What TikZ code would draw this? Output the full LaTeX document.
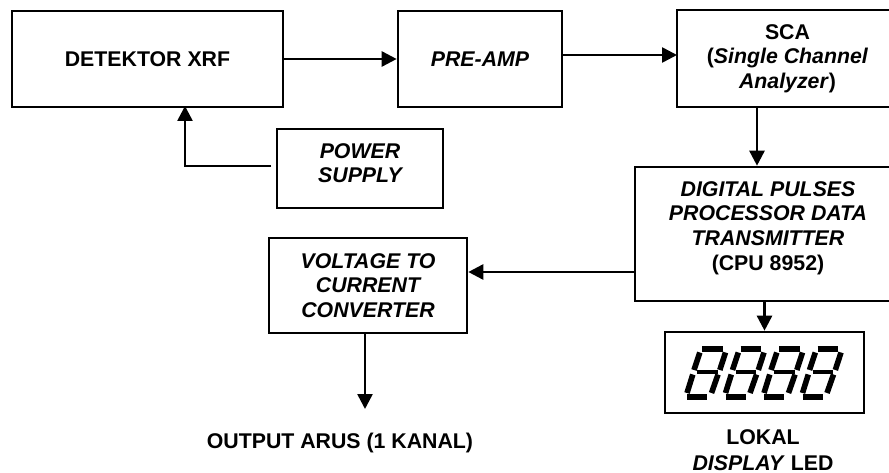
\documentclass[tikz,border=0pt]{standalone}
\usepackage{fontspec}
\setmainfont{Liberation Sans}
\usetikzlibrary{arrows.meta}
\begin{document}
\begin{tikzpicture}
  [x=1pt,y=-1pt,line width=2.6pt,
   >={Triangle[length=15pt,width=15pt]},
   every node/.style={inner sep=0pt,align=center,font=\fontsize{21.3}{24.6}\selectfont\bfseries},
   blok/.style={draw,minimum width=#1},
   wire/.style={->}]
  \useasboundingbox (0,0) rectangle (889,473);
  \node[blok=271pt,minimum height=96pt] (detektor) at (147.5,59) {DETEKTOR XRF};
  \node[blok=164pt,minimum height=96pt] (preamp) at (480,59) {\itshape PRE-AMP};
  \node[blok=221pt,minimum height=97pt] (sca) at (787.5,58.5) {SCA\\(\textit{Single Channel}\\\textit{Analyzer})};
  \node[blok=166pt,minimum height=79pt,label={[yshift=5.5pt]center:\itshape POWER\\\itshape SUPPLY}] (power) at (360,168.5) {};
  \node[blok=266pt,minimum height=134pt,label={[yshift=6pt]center:\textit{DIGITAL PULSES}\\\textit{PROCESSOR DATA}\\\textit{TRANSMITTER}\\(CPU 8952)}] (digital) at (768,234) {};
  \node[blok=198pt,minimum height=95pt] (vtc) at (368,285.5) {\itshape VOLTAGE TO\\\itshape CURRENT\\\itshape CONVERTER};
  \node[blok=199pt,minimum height=81pt] (display) at (764.5,372.5) {};
  \node (arus) at (340,443) {OUTPUT ARUS (1 KANAL)};
  \node (lokal) at (763,450) {LOKAL\\[1.4pt]\textit{DISPLAY} LED};
  \coordinate (scain) at (677,55);
  \coordinate (scaout) at (757,107);
  \coordinate (pwrout) at (271,166);
  \coordinate (detin) at (185,106);
  \coordinate (digout) at (635,272);
  \coordinate (vtcout) at (365,333);
  \coordinate (arusin) at (365,409);
  \draw[wire] (detektor.east) -- (preamp.west);
  \draw[wire] (preamp.east |- scain) -- (scain);
  \draw[wire] (scaout) -- (scaout |- digital.north);
  \draw[wire] (pwrout) -| (detin);
  \draw[wire] (digout) -- (vtc.east |- digout);
  \draw[wire] (vtcout) -- (arusin);
  \draw[wire] (digital.south -| display.north) -- (display.north);
  \foreach \n in {0,1,2,3}
    \foreach \ax/\ay/\bx/\by/\w in {702/348.8/722.5/348.8/5.6, 697/372/717.5/372/3.4, 687/397/707/397/5.6,
                                    699.8/352.5/694/370/5.6, 725.5/352.5/719.8/370/5.6,
                                    692.8/374.5/687/393/5.6, 718/374.5/711.5/393/5.6}
      \draw[line width=\w pt,xshift=\n*38.5pt] (\ax,\ay) -- (\bx,\by);
\end{tikzpicture}
\end{document}
